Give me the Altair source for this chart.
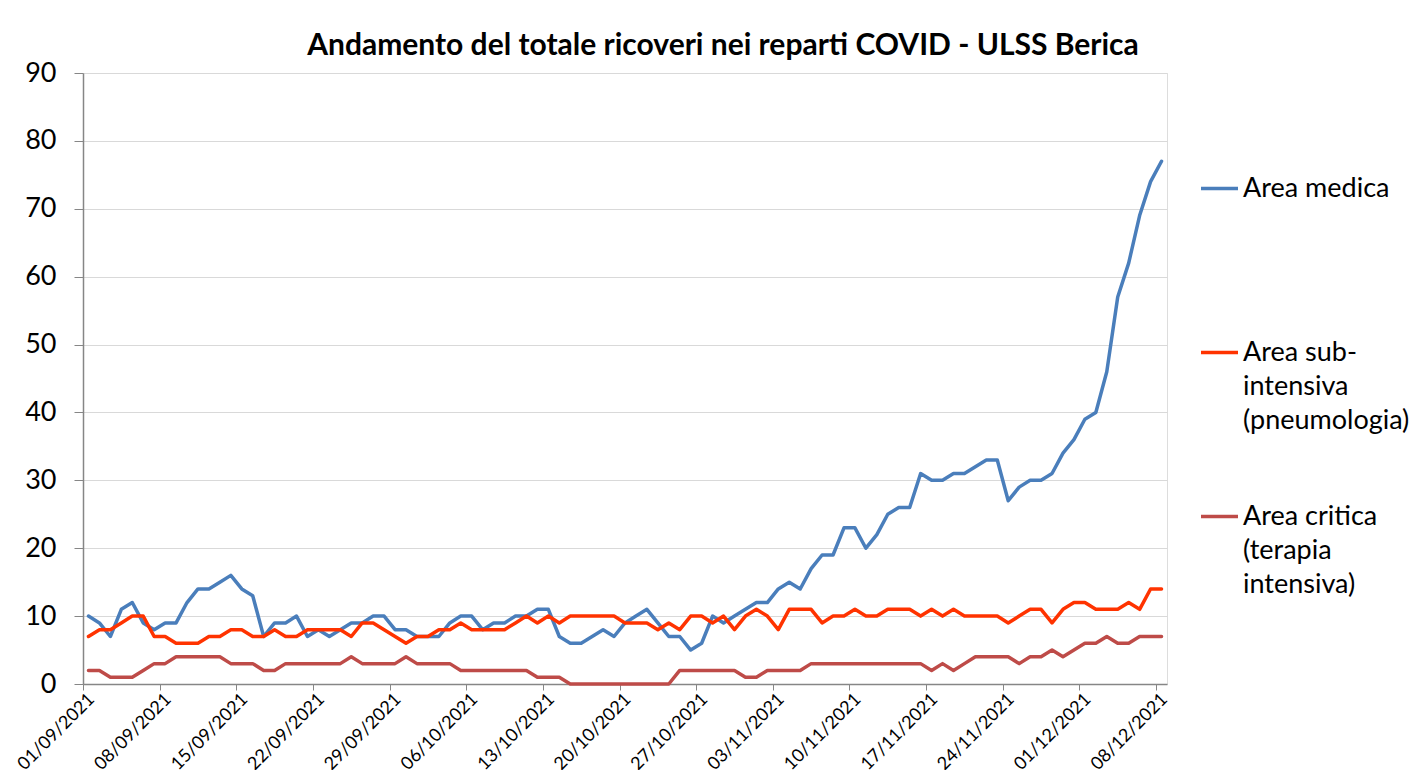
import altair as alt
import pandas as pd

# ---------------- data ----------------
start_date = "2021-09-01 12:00"
n_days = 99

area_medica = [10, 9, 7, 11, 12, 9, 8, 9, 9, 12, 14, 14, 15, 16, 14, 13, 7, 9, 9, 10,
               7, 8, 7, 8, 9, 9, 10, 10, 8, 8, 7, 7, 7, 9, 10, 10, 8, 9, 9, 10,
               10, 11, 11, 7, 6, 6, 7, 8, 7, 9, 10, 11, 9, 7, 7, 5, 6, 10, 9, 10,
               11, 12, 12, 14, 15, 14, 17, 19, 19, 23, 23, 20, 22, 25, 26, 26, 31, 30, 30, 31,
               31, 32, 33, 33, 27, 29, 30, 30, 31, 34, 36, 39, 40, 46, 57, 62, 69, 74, 77]

area_sub = [7, 8, 8, 9, 10, 10, 7, 7, 6, 6, 6, 7, 7, 8, 8, 7, 7, 8, 7, 7,
            8, 8, 8, 8, 7, 9, 9, 8, 7, 6, 7, 7, 8, 8, 9, 8, 8, 8, 8, 9,
            10, 9, 10, 9, 10, 10, 10, 10, 10, 9, 9, 9, 8, 9, 8, 10, 10, 9, 10, 8,
            10, 11, 10, 8, 11, 11, 11, 9, 10, 10, 11, 10, 10, 11, 11, 11, 10, 11, 10, 11,
            10, 10, 10, 10, 9, 10, 11, 11, 9, 11, 12, 12, 11, 11, 11, 12, 11, 14, 14]

area_critica = [2, 2, 1, 1, 1, 2, 3, 3, 4, 4, 4, 4, 4, 3, 3, 3, 2, 2, 3, 3,
                3, 3, 3, 3, 4, 3, 3, 3, 3, 4, 3, 3, 3, 3, 2, 2, 2, 2, 2, 2,
                2, 1, 1, 1, 0, 0, 0, 0, 0, 0, 0, 0, 0, 0, 2, 2, 2, 2, 2, 2,
                1, 1, 2, 2, 2, 2, 3, 3, 3, 3, 3, 3, 3, 3, 3, 3, 3, 2, 3, 2,
                3, 4, 4, 4, 4, 3, 4, 4, 5, 4, 5, 6, 6, 7, 6, 6, 7, 7, 7]

series_names = ["Area medica", "Area sub-intensiva (pneumologia)", "Area critica (terapia intensiva)"]
series_colors = ["#4A7EBB", "#FF3300", "#BE4B48"]

tick_labels = ["01/09/2021", "08/09/2021", "15/09/2021", "22/09/2021", "29/09/2021",
               "06/10/2021", "13/10/2021", "20/10/2021", "27/10/2021", "03/11/2021",
               "10/11/2021", "17/11/2021", "24/11/2021", "01/12/2021", "08/12/2021"]
y_ticks = [0, 10, 20, 30, 40, 50, 60, 70, 80, 90]

title_text = "Andamento del totale ricoveri nei reparti COVID - ULSS Berica"

# ---------------- table ----------------
dates = pd.date_range(start_date, periods=n_days, freq="D")
rows = []
for name, vals in zip(series_names, [area_medica, area_sub, area_critica]):
    for d, v in zip(dates, vals):
        rows.append({"date": d, "series": name, "value": v})
df = pd.DataFrame(rows)


def to_dt(s):
    dd, mm, yy = s.split("/")
    return alt.DateTime(year=int(yy), month=int(mm), date=int(dd))


tick_values = [to_dt(s) for s in tick_labels]

FONT = "Lato"
AXIS_GREY = "#868686"

# legend labels wrapped as in the reference (all entries padded to three lines
# so that the legend rows are evenly spaced)
label_expr = ("datum.label == 'Area sub-intensiva (pneumologia)' ? ['Area sub-', 'intensiva', '(pneumologia)'] : "
              "datum.label == 'Area critica (terapia intensiva)' ? ['Area critica', '(terapia', 'intensiva)'] : "
              "[datum.label, ' ', ' ']")

chart = alt.Chart(df).mark_line(strokeWidth=3.5, strokeJoin="round", strokeCap="round").encode(
    x=alt.X("date:T",
            scale=alt.Scale(domain=[alt.DateTime(year=2021, month=9, date=1),
                                    alt.DateTime(year=2021, month=12, date=9)]),
            axis=alt.Axis(values=tick_values, format="%d/%m/%Y", labelAngle=-45,
                          labelAlign="right", labelBaseline="top", labelFontSize=18,
                          labelFont=FONT, labelColor="#000000", labelPadding=0, labelOffset=2,
                          tickSize=6, tickColor=AXIS_GREY, domainColor=AXIS_GREY,
                          domainWidth=1.5, grid=False, labelOverlap=False, title=None)),
    y=alt.Y("value:Q",
            scale=alt.Scale(domain=[0, 90], nice=False),
            axis=alt.Axis(values=y_ticks, labelFontSize=27, labelFont=FONT,
                          labelColor="#000000", labelPadding=18, tickSize=9,
                          tickColor=AXIS_GREY, domainColor=AXIS_GREY, domainWidth=1.5,
                          gridColor="#D9D9D9", gridWidth=1.2, title=None)),
    color=alt.Color("series:N",
                    scale=alt.Scale(domain=series_names, range=series_colors),
                    legend=alt.Legend(title=None, orient="none", legendX=1116, legendY=95,
                                      symbolType="stroke", symbolSize=1369,
                                      symbolStrokeWidth=3.5, labelFontSize=27,
                                      labelFont=FONT, labelColor="#000000",
                                      labelLimit=400, labelOffset=3, rowPadding=62,
                                      labelBaseline="middle", labelExpr=label_expr,
                                      padding=0)),
).properties(
    width=1084,
    height=611,
    title=alt.TitleParams(text=title_text, font=FONT, fontSize=30, fontWeight="bold",
                          color="#000000", anchor="middle", dx=98, dy=2, offset=0),
    autosize=alt.AutoSizeParams(type="none"),
    padding={"left": 75, "top": 65, "right": 244, "bottom": 86},
    background="white",
).configure_view(stroke=None).configure(style={"guide-label": {"lineHeight": 34}})

chart.save("out.html", embed_options={"renderer": "svg", "actions": False})
